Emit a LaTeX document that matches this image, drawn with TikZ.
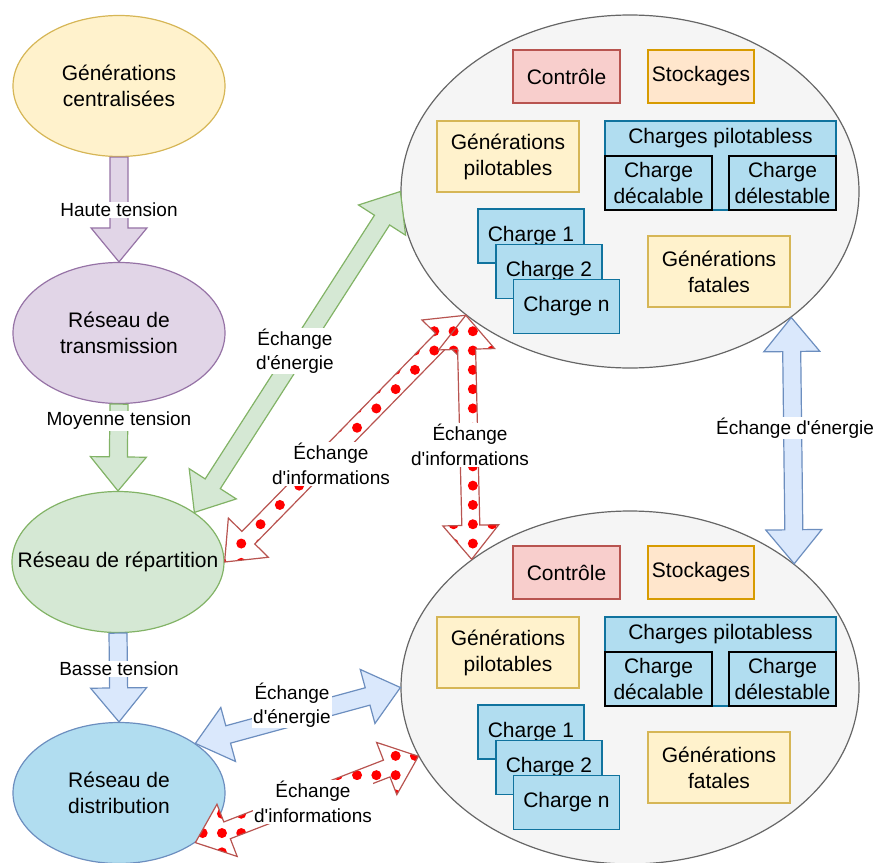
\documentclass[tikz,border=0pt]{standalone}
\usepackage{fontspec}
\setmainfont{Liberation Sans}[Ligatures=TeXOff]
\usepackage{xcolor}
\usepackage{tikz}
\usetikzlibrary{shapes.geometric,calc,patterns}

\definecolor{greyfill}{HTML}{F5F5F5}
\definecolor{greyline}{HTML}{666666}
\definecolor{yellowfill}{HTML}{FFF2CC}
\definecolor{yellowline}{HTML}{D6B656}
\definecolor{purplefill}{HTML}{E1D5E7}
\definecolor{purpleline}{HTML}{9673A6}
\definecolor{greenfill}{HTML}{D5E8D4}
\definecolor{greenline}{HTML}{82B366}
\definecolor{bluefill}{HTML}{DAE8FC}
\definecolor{blueline}{HTML}{6C8EBF}
\definecolor{cyanfill}{HTML}{B1DDF0}
\definecolor{cyanline}{HTML}{10739E}
\definecolor{redfill}{HTML}{F8CECC}
\definecolor{redline}{HTML}{B85450}
\definecolor{orangefill}{HTML}{FFE6CC}
\definecolor{orangeline}{HTML}{D79B00}

\newcommand{\bigtxt}{\fontsize{21}{26}\selectfont}
\newcommand{\smalltxt}{\fontsize{19}{24.5}\selectfont}

% red dots for the information arrows
\pgfdeclarepatternformonly{bigdots}{\pgfqpoint{-1pt}{-1pt}}{\pgfqpoint{20.3pt}{20.3pt}}{\pgfqpoint{19.3pt}{19.3pt}}%
{\pgfpathcircle{\pgfqpoint{9.65pt}{9.65pt}}{5pt}\pgfusepath{fill}}

\tikzset{
  zone/.style={ellipse, draw=greyline, fill=greyfill, line width=1.2pt, minimum width=458pt, minimum height=353pt},
  net/.style={ellipse, line width=1.2pt, minimum width=212pt, minimum height=141pt, align=center, font=\bigtxt},
  box/.style={rectangle, line width=1.2pt, align=center, inner sep=2pt, font=\bigtxt},
  ctrlbox/.style={box, draw=redline, fill=redfill, minimum width=107pt, minimum height=53pt},
  stockbox/.style={box, draw=orangeline, fill=orangefill, minimum width=106pt, minimum height=53pt},
  genbox/.style={box, draw=yellowline, fill=yellowfill, minimum width=142pt, minimum height=71pt},
  chargebox/.style={box, draw=cyanline, fill=cyanfill, line width=1.5pt, minimum width=106pt, minimum height=54pt},
  pilotbox/.style={box, draw=black, fill=cyanfill, line width=1.5pt, minimum width=107pt, minimum height=54pt},
  lbl/.style={fill=white, inner sep=1pt, align=center, font=\smalltxt},
  purplearrow/.style={draw=purpleline, fill=purplefill, line width=1.2pt},
  greenarrow/.style={draw=greenline, fill=greenfill, line width=1.2pt},
  bluearrow/.style={draw=blueline, fill=bluefill, line width=1.2pt},
  infoarrow/.style={draw=redline, line width=1.2pt, preaction={fill=white}, pattern=bigdots, pattern color=red},
}

% block arrow, one head: style, from, to, name
\newcommand{\blockarrow}[4]{%
  \coordinate (#4-e) at ($(#3)!34pt!(#2)$);
  \draw[#1] ($(#2)!9pt!90:(#3)$) -- ($(#4-e)!9pt!-90:(#2)$) -- ($(#4-e)!28pt!-90:(#2)$)
    -- (#3) -- ($(#4-e)!28pt!90:(#2)$) -- ($(#4-e)!9pt!90:(#2)$) -- ($(#2)!9pt!-90:(#3)$) -- cycle;
}
% block arrow, two heads: style, from, to, name
\newcommand{\doublearrow}[4]{%
  \coordinate (#4-s) at ($(#2)!34pt!(#3)$);
  \coordinate (#4-e) at ($(#3)!34pt!(#2)$);
  \draw[#1] (#2) -- ($(#4-s)!28pt!90:(#3)$) -- ($(#4-s)!9pt!90:(#3)$)
    -- ($(#4-e)!9pt!-90:(#2)$) -- ($(#4-e)!28pt!-90:(#2)$) -- (#3)
    -- ($(#4-e)!28pt!90:(#2)$) -- ($(#4-e)!9pt!90:(#2)$)
    -- ($(#4-s)!9pt!-90:(#3)$) -- ($(#4-s)!28pt!-90:(#3)$) -- cycle;
}

\begin{document}
\begin{tikzpicture}[x=1pt,y=1pt,yscale=-1,xscale=1]
\useasboundingbox (0,0) rectangle (875,862);

%Shape: Ellipse
\node[net, draw=yellowline, fill=yellowfill] (gc) at (119,86) {Générations\\centralisées};
%Shape: Ellipse
\node[net, draw=purpleline, fill=purplefill] (rt) at (119,333) {Réseau de\\transmission};
%Shape: Ellipse
\node[net, draw=greenline, fill=greenfill] (rep) at (118,562) {};
\node[font=\bigtxt, inner sep=0pt] (rep-txt) at (rep) {Réseau de répartition};
%Shape: Ellipse
\node[net, draw=blueline, fill=cyanfill] (dist) at (119,793) {Réseau de\\distribution};

%Shape: Ellipse (upper zone)
\node[zone] (zoneA) at (630,191.5) {};
\node[ctrlbox] (ctrlA) at (566.5,76.5) {Contrôle};
\node[stockbox] (stockA) at (701,76.5) {Stockages};
\node[genbox] (genpA) at (508,156.5) {Générations\\pilotables};
\node[box, draw=cyanline, fill=cyanfill, line width=1.5pt, minimum width=231pt, minimum height=89pt] (chpA) at (720.5,165.5) {};
\node[font=\bigtxt] (chpA-txt) at (720.5,138.5) {Charges pilotabless};
\node[pilotbox] (decA) at (658.5,183) {Charge\\décalable};
\node[pilotbox] (delA) at (782.5,183) {Charge\\délestable};
\node[chargebox] (ch1A) at (531,236) {Charge 1};
\node[chargebox] (ch2A) at (549,271.5) {Charge 2};
\node[chargebox] (chnA) at (566.5,306.5) {Charge n};
\node[genbox] (genfA) at (719,271.5) {Générations\\fatales};

%Shape: Ellipse (lower zone)
\node[zone] (zoneB) at (630,687.5) {};
\node[ctrlbox] (ctrlB) at (566.5,572.5) {Contrôle};
\node[stockbox] (stockB) at (701,572.5) {Stockages};
\node[genbox] (genpB) at (508,652.5) {Générations\\pilotables};
\node[box, draw=cyanline, fill=cyanfill, line width=1.5pt, minimum width=231pt, minimum height=89pt] (chpB) at (720.5,661.5) {};
\node[font=\bigtxt] (chpB-txt) at (720.5,634.5) {Charges pilotabless};
\node[pilotbox] (decB) at (658.5,679) {Charge\\décalable};
\node[pilotbox] (delB) at (782.5,679) {Charge\\délestable};
\node[chargebox] (ch1B) at (531,732) {Charge 1};
\node[chargebox] (ch2B) at (549,767.5) {Charge 2};
\node[chargebox] (chnB) at (566.5,802.5) {Charge n};
\node[genbox] (genfB) at (719,767.5) {Générations\\fatales};

% Voltage arrows
\blockarrow{purplearrow}{gc.south}{rt.north}{ht}
\blockarrow{greenarrow}{rt.south}{rep.north}{mt}
\blockarrow{bluearrow}{rep.south}{dist.north}{bt}

% Exchange arrows
\doublearrow{greenarrow}{rep.33.3}{zoneA.west}{eA}
\doublearrow{infoarrow}{rep.east}{zoneA.217.9}{iA}
\doublearrow{infoarrow}{zoneA.217.9}{zoneB.141.8}{iAB}
\doublearrow{bluearrow}{zoneA.322.6}{zoneB.37.6}{eAB}
\doublearrow{bluearrow}{dist.33.9}{zoneB.west}{eB}
\doublearrow{infoarrow}{dist.-33.3}{zoneB.198.4}{iB}

% Text Node
\node[lbl] (ht-lbl) at (119,210) {Haute tension};
% Text Node
\node[lbl] (mt-lbl) at (119,421) {Moyenne tension};
% Text Node
\node[lbl] (bt-lbl) at (119,669) {Basse tension};
% Text Node
\node[lbl] (eA-lbl) at (295,351) {Échange\\d'énergie};
% Text Node
\node[lbl] (iA-lbl) at (331,464) {Échange\\d'informations};
% Text Node
\node[lbl] (iAB-lbl) at (470,445) {Échange\\d'informations};
% Text Node
\node[lbl] (eAB-lbl) at (795,428) {Échange d'énergie};
% Text Node
\node[lbl] (eB-lbl) at (292,705) {Échange\\d'énergie};
% Text Node
\node[lbl] (iB-lbl) at (313,802) {Échange\\d'informations};

\end{tikzpicture}
\end{document}
